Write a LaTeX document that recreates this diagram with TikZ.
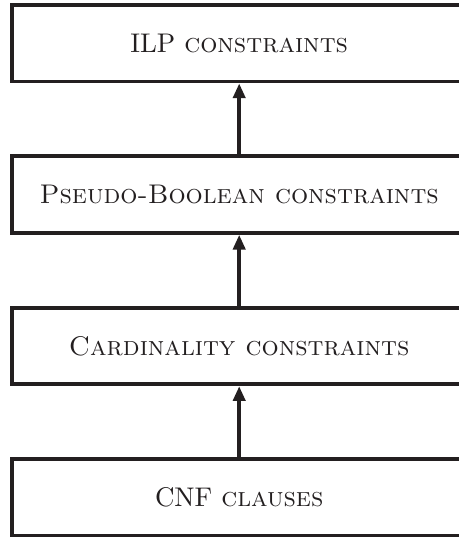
\documentclass[tikz,border=0pt]{standalone}
\usetikzlibrary{arrows.meta}
\definecolor{ink}{RGB}{35,31,32}
\begin{document}
\begin{tikzpicture}[x=0.365pt,y=-0.365pt,
  layerbox/.style={draw=ink, text=ink, line width=1.35pt, minimum width=165.9pt, minimum height=27.96pt, inner sep=0pt, font=\fontsize{9.85}{12}\selectfont},
  uparrow/.style={draw=ink, line width=1.45pt, -{Triangle[width=4.4pt,length=5.4pt]}}]
\useasboundingbox (0,0) rectangle (458,538);
\node[layerbox] (ilp) at (239.2,43.2) {ILP \textsc{constraints}};
\node[layerbox] (pb) at (239.2,194.6) {\textsc{Pseudo-Boolean constraints}};
\node[layerbox] (card) at (239.2,346) {\textsc{Cardinality constraints}};
\node[layerbox] (cnf) at (239.2,497.3) {CNF \textsc{clauses}};
\draw[uparrow] (pb.north) -- (ilp.south);
\draw[uparrow] (card.north) -- (pb.south);
\draw[uparrow] (cnf.north) -- (card.south);
\end{tikzpicture}
\end{document}
